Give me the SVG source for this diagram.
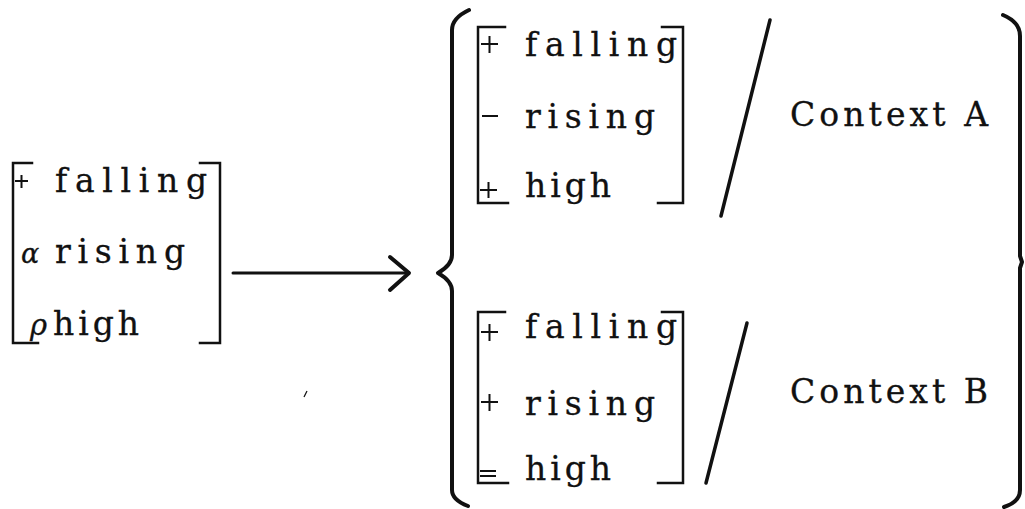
<svg xmlns="http://www.w3.org/2000/svg" width="1025" height="509" viewBox="0 0 1025 509">
<style>
text{font-family:"DejaVu Serif","Liberation Serif",serif;font-size:33px;fill:#111;stroke:#111;stroke-width:0.3}
.br{fill:none;stroke:#111;stroke-width:2.5;stroke-linecap:square}
.sg{fill:none;stroke:#111;stroke-width:2}
.bold{fill:none;stroke:#111;stroke-width:4;stroke-linecap:round;stroke-linejoin:round}
</style>
<rect width="1025" height="509" fill="#fff"/>
<g id="input">
<path class="br" d="M32 163H13V343H38M200 163H220V343H200"/>
<path class="sg" d="M15 181H28M21.5 175V188"/>
<text x="55" y="192" textLength="152" lengthAdjust="spacing">falling</text>
<text x="21" y="263" style="font-style:italic;font-size:27px">α</text>
<text x="55" y="263" textLength="130" lengthAdjust="spacing">rising</text>
<text x="30" y="335" style="font-style:italic;font-size:29px">ρ</text>
<text x="53" y="335" textLength="86" lengthAdjust="spacing">high</text>
</g>
<g id="connectors">
<path class="bold" style="stroke-width:3" d="M233 273H408"/>
<path class="bold" d="M390 257L409 273L390 290"/>
</g>
<g id="leftbrace">
<path class="bold" d="M469 10Q452 18 452 30V255Q452 265 438 273Q452 281 452 291V490Q452 500 468 506"/>
</g>
<g id="contextA">
<path class="br" d="M505 27H478V203H508M662 27H683V203H658"/>
<path class="sg" d="M481 44H498M489.5 36V53M482 116H498M480 190H497M488.5 182V198"/>
<text x="525" y="56" textLength="152" lengthAdjust="spacing">falling</text>
<text x="525" y="128" textLength="130" lengthAdjust="spacing">rising</text>
<text x="525" y="197" textLength="86" lengthAdjust="spacing">high</text>
<path class="bold" style="stroke-width:3.5" d="M770 20L721 216"/>
<text x="790" y="126" textLength="198" lengthAdjust="spacing">Context A</text>
</g>
<g id="contextB">
<path class="br" d="M505 312H478V483H508M662 312H683V483H658"/>
<path class="sg" d="M481 332H498M489.5 324V341M481 402H498M489.5 394V411M480 471H496M480 476H496"/>
<text x="525" y="338" textLength="152" lengthAdjust="spacing">falling</text>
<text x="525" y="415" textLength="130" lengthAdjust="spacing">rising</text>
<text x="525" y="480" textLength="86" lengthAdjust="spacing">high</text>
<path class="bold" style="stroke-width:3.5" d="M747 323L706 483"/>
<text x="790" y="403" textLength="198" lengthAdjust="spacing">Context B</text>
</g>
<g id="rightbrace">
<path class="bold" d="M1003 15Q1020 22 1020 36V256L1022 262L1020 268V490Q1020 502 1004 507"/>
</g>
<path class="sg" style="stroke-width:1.2" d="M307 391L304 397"/>
</svg>
